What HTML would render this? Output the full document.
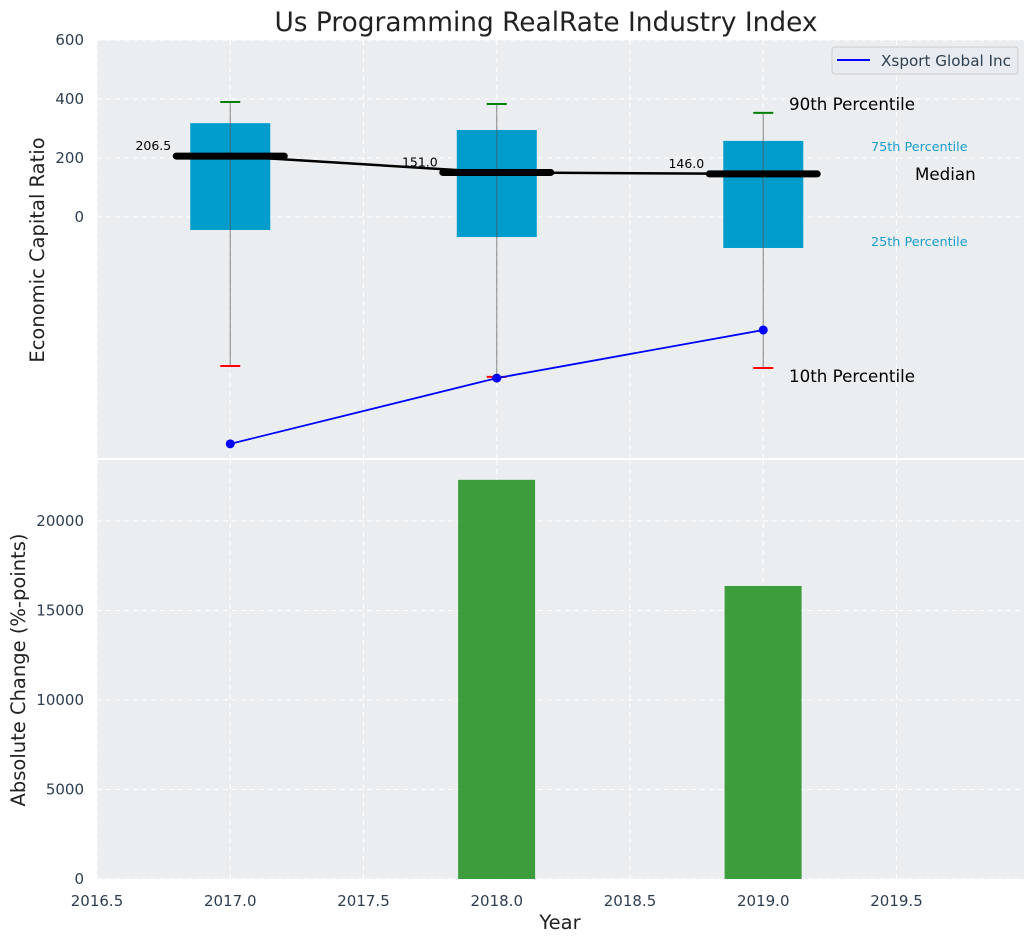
<!DOCTYPE html>
<html><head><meta charset="utf-8"><style>
body{margin:0;background:#fff;}
svg{display:block;font-family:"DejaVu Sans","Liberation Sans",sans-serif;}
</style></head><body>
<svg id="c" width="1035" height="942"></svg>
<script>
const years=[2017,2018,2019];
const p90=[390,383,353];
const p75=[318,295,258];
const median=[206.5,151.0,146.0];
const p25=[-44,-68,-105];
const p10=[-505,-542,-512];
const company=[-769,-546,-383];
const absChange=[0,22300,16370];
const xTicks=[2016.5,2017.0,2017.5,2018.0,2018.5,2019.0,2019.5];
const yTopTicks=[0,200,400,600];
const yBotTicks=[0,5000,10000,15000,20000];
const NS='http://www.w3.org/2000/svg';
const svg=document.getElementById('c');
function el(t,a,p){const e=document.createElementNS(NS,t);for(const k in a)e.setAttribute(k,a[k]);(p||svg).appendChild(e);return e;}
const L=97,R=1024;
const X=v=>L+(v-2016.5)*266.5;
const T0=40,T1=458,Y1=v=>217-v*0.295;
const B0=460,B1=879,Y2=v=>879-v*0.0179;
let g=el('rect',{x:L,y:T0,width:R-L,height:T1-T0,fill:'#eaeef0'});

g=el('rect',{x:L,y:B0,width:R-L,height:B1-B0,fill:'#eaeef0'});

xTicks.forEach(t=>{
 el('line',{x1:X(t),x2:X(t),y1:T0,y2:T1,stroke:'#fff','stroke-dasharray':'5,4','stroke-width':1});
 el('line',{x1:X(t),x2:X(t),y1:B0,y2:B1,stroke:'#fff','stroke-dasharray':'5,4','stroke-width':1});
 const tx=el('text',{x:X(t),y:906,'font-size':15,fill:'#2d3e50','text-anchor':'middle'});tx.textContent=t.toFixed(1);
 
});
yTopTicks.forEach(t=>{
 el('line',{x1:L,x2:R,y1:Y1(t),y2:Y1(t),stroke:'#fff','stroke-dasharray':'5,4'});
 const tx=el('text',{x:84,y:Y1(t)+5,'font-size':15,fill:'#2d3e50','text-anchor':'end'});tx.textContent=t;
 
});
yBotTicks.forEach(t=>{
 el('line',{x1:L,x2:R,y1:Y2(t),y2:Y2(t),stroke:'#fff','stroke-dasharray':'5,4'});
 const tx=el('text',{x:84,y:Y2(t)+5,'font-size':15,fill:'#2d3e50','text-anchor':'end'});tx.textContent=t;
 
});
years.forEach((y,i)=>{
 const b=el('rect',{x:X(y-0.15),y:Y1(p75[i]),width:80,height:Y1(p25[i])-Y1(p75[i]),fill:'#009ccc'});
 
 const w=el('line',{x1:X(y),x2:X(y),y1:Y1(p90[i]),y2:Y1(p10[i]),stroke:'#555','stroke-opacity':0.6,'stroke-width':1.2});
 
 const c1=el('line',{x1:X(y)-10,x2:X(y)+10,y1:Y1(p90[i]),y2:Y1(p90[i]),stroke:'green','stroke-width':2});
 
 const c2=el('line',{x1:X(y)-10,x2:X(y)+10,y1:Y1(p10[i]),y2:Y1(p10[i]),stroke:'red','stroke-width':2});
 
});
let pts=years.map((y,i)=>X(y)+','+Y1(median[i])).join(' ');
g=el('polyline',{points:pts,fill:'none',stroke:'#000','stroke-width':2.5});

years.forEach((y,i)=>{
 const m=el('line',{x1:X(y)-54,x2:X(y)+54,y1:Y1(median[i]),y2:Y1(median[i]),stroke:'#000','stroke-width':7,'stroke-linecap':'round'});
 
 const t=el('text',{x:X(y)-59,y:Y1(median[i])-6,'font-size':12.5,fill:'#000','text-anchor':'end'});t.textContent=median[i].toFixed(1);
 
});
pts=years.map((y,i)=>X(y)+','+Y1(company[i])).join(' ');
g=el('polyline',{points:pts,fill:'none',stroke:'blue','stroke-width':1.8});

years.forEach((y,i)=>{const d=el('circle',{cx:X(y),cy:Y1(company[i]),r:4.5,fill:'blue'});
 });
[['90th Percentile',789,110,16.7,'#000'],['75th Percentile',871,151,12.8,'#1a9ccc'],['Median',915,180,16.7,'#000'],['25th Percentile',871,246,12.8,'#1a9ccc'],['10th Percentile',789,382,16.7,'#000']].forEach(a=>{
 const t=el('text',{x:a[1],y:a[2],'font-size':a[3],fill:a[4]});t.textContent=a[0];
 
});
g=el('g',{});
el('rect',{x:832,y:47,width:186,height:27,rx:3,fill:'#e8ecf0',stroke:'#ccc'},g);
el('line',{x1:837,x2:870,y1:60,y2:60,stroke:'blue','stroke-width':2},g);
let t=el('text',{x:881,y:66,'font-size':15.2,fill:'#2d3e50'},g);t.textContent='Xsport Global Inc';
years.forEach((y,i)=>{
 const b=el('rect',{x:X(y-0.145),y:Y2(absChange[i]),width:77,height:B1-Y2(absChange[i]),fill:'#2e962e','fill-opacity':0.92});
 
});
el('line',{x1:L,x2:R,y1:459,y2:459,stroke:'#fff','stroke-width':2});
t=el('text',{x:546,y:31,'font-size':26.4,fill:'#222','text-anchor':'middle'});t.textContent='Us Programming RealRate Industry Index';

t=el('text',{x:0,y:0,'font-size':19.5,fill:'#222','text-anchor':'middle',transform:'translate(44,250) rotate(-90)'});t.textContent='Economic Capital Ratio';

t=el('text',{x:0,y:0,'font-size':19.5,fill:'#222','text-anchor':'middle',transform:'translate(25,670) rotate(-90)'});t.textContent='Absolute Change (%-points)';

t=el('text',{x:560,y:929,'font-size':19.5,fill:'#222','text-anchor':'middle'});t.textContent='Year';

</script>
</body></html>
